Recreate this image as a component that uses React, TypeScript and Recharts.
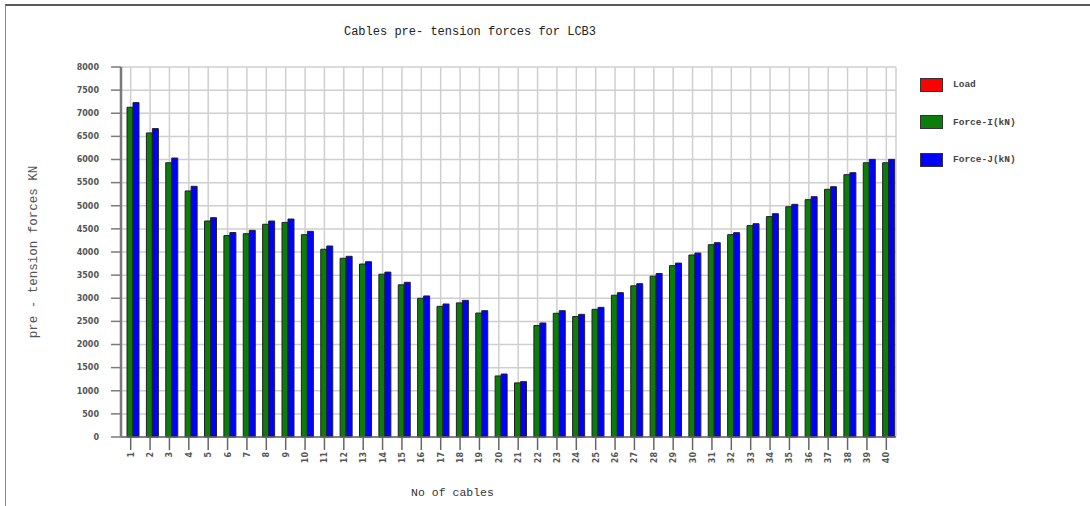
import { BarChart, Bar, XAxis, YAxis, CartesianGrid, Legend, Label } from 'recharts';

const cables = [
  '1', '2', '3', '4', '5', '6', '7', '8', '9', '10',
  '11', '12', '13', '14', '15', '16', '17', '18', '19', '20',
  '21', '22', '23', '24', '25', '26', '27', '28', '29', '30',
  '31', '32', '33', '34', '35', '36', '37', '38', '39', '40',
];

const load = [
  0, 0, 0, 0, 0, 0, 0, 0, 0, 0,
  0, 0, 0, 0, 0, 0, 0, 0, 0, 0,
  0, 0, 0, 0, 0, 0, 0, 0, 0, 0,
  0, 0, 0, 0, 0, 0, 0, 0, 0, 0,
];

const forceI = [
  7130, 6575, 5930, 5320, 4670, 4355, 4395, 4600, 4640, 4375,
  4060, 3865, 3740, 3520, 3290, 3000, 2825, 2900, 2680, 1320,
  1170, 2410, 2675, 2605, 2760, 3065, 3268, 3478, 3705, 3935,
  4158, 4375, 4570, 4765, 4980, 5132, 5355, 5672, 5930, 5930,
];

const forceJ = [
  7230, 6668, 6032, 5420, 4742, 4420, 4468, 4670, 4713, 4447,
  4130, 3907, 3790, 3565, 3345, 3050, 2876, 2955, 2731, 1362,
  1196, 2465, 2731, 2652, 2803, 3121, 3315, 3535, 3760, 3978,
  4202, 4418, 4612, 4829, 5031, 5196, 5412, 5715, 6003, 6003,
];

const seriesNames = ['Load', 'Force-I(kN)', 'Force-J(kN)'];

const yTicks = [0, 500, 1000, 1500, 2000, 2500, 3000, 3500, 4000, 4500, 5000, 5500, 6000, 6500, 7000, 7500, 8000];

const data = cables.map((c, i) => ({
  name: c,
  load: load[i],
  forceI: forceI[i],
  forceJ: forceJ[i],
}));

const mono = '"Liberation Mono", "DejaVu Sans Mono", monospace';
const tickFont = '"DejaVu Sans", Verdana, sans-serif';

function XTick(props: any) {
  const { x, y, payload } = props;
  return (
    <text
      x={x}
      y={y}
      dy={3}
      transform={`rotate(-90, ${x}, ${y})`}
      textAnchor="end"
      fontFamily={tickFont}
      fontWeight="bold"
      fontSize={8}
      fill="#555"
    >
      {payload.value}
    </text>
  );
}

function LegendList(props: any) {
  const items = [...(props.payload || [])].sort(
    (a: any, b: any) => seriesNames.indexOf(a.value) - seriesNames.indexOf(b.value),
  );
  return (
    <div>
      {items.map((it: any) => (
        <div key={it.value} style={{ display: 'flex', alignItems: 'center', height: 13, marginBottom: 24.5 }}>
          <span
            style={{
              display: 'inline-block',
              width: 21,
              height: 12,
              background: it.color,
              border: '1px solid #333',
              marginRight: 10,
            }}
          />
          <span style={{ fontFamily: mono, fontSize: 9.5, fontWeight: 'bold', color: '#444' }}>{it.value}</span>
        </div>
      ))}
    </div>
  );
}

export default function App() {
  return (
    <div style={{ position: 'absolute', left: 0, top: 0, width: 1090, height: 506, background: '#fff', overflow: 'hidden' }}>
      <div
        style={{
          position: 'absolute',
          left: 5,
          top: 4,
          width: 1090,
          height: 500,
          borderTop: '2px solid #5a5a5a',
          borderLeft: '1px solid #888',
          borderBottom: '1px solid #999',
        }}
      />
      <div
        style={{
          position: 'absolute',
          left: 0,
          top: 25,
          width: 940,
          textAlign: 'center',
          fontFamily: mono,
          fontSize: 12,
          color: '#222',
        }}
      >
        Cables pre- tension forces for LCB3
      </div>
      <div style={{ position: 'absolute', left: 0, top: 0 }}>
        <BarChart
          width={1090}
          height={506}
          data={data}
          margin={{ top: 67, right: 194, bottom: 39, left: 61 }}
          barCategoryGap={0}
          barGap={0}
        >
          <CartesianGrid stroke="#cfcfcf" strokeWidth={1.5} />
          <XAxis
            dataKey="name"
            height={30}
            interval={0}
            tick={<XTick />}
            tickSize={13}
            axisLine={{ stroke: '#666', strokeWidth: 1.5 }}
            tickLine={{ stroke: '#666', strokeWidth: 1.5 }}
          >
            <Label
              content={({ viewBox }: any) => (
                <text
                  x={viewBox.x + viewBox.width / 2 - 56}
                  y={viewBox.y + 59}
                  textAnchor="middle"
                  fontFamily={mono}
                  fontSize={11.5}
                  fill="#333"
                >
                  No of cables
                </text>
              )}
            />
          </XAxis>
          <YAxis
            width={60}
            domain={[0, 8000]}
            ticks={yTicks}
            interval={0}
            tickSize={10}
            tickMargin={12}
            axisLine={{ stroke: '#7a7a7a', strokeWidth: 2.5 }}
            tickLine={{ stroke: '#7a7a7a', strokeWidth: 1.5 }}
            tick={{ fontFamily: tickFont, fontWeight: 'bold', fontSize: 8, fill: '#555' }}
          >
            <Label
              content={({ viewBox }: any) => {
                const cx = viewBox.x - 24;
                const cy = viewBox.y + viewBox.height / 2;
                return (
                  <text
                    x={cx}
                    y={cy}
                    transform={`rotate(-90, ${cx}, ${cy})`}
                    textAnchor="middle"
                    fontFamily={mono}
                    fontSize={12.5}
                    fill="#555"
                  >
                    pre - tension forces KN
                  </text>
                );
              }}
            />
          </YAxis>
          <YAxis
            yAxisId="frame"
            orientation="right"
            width={0}
            domain={[0, 8000]}
            tick={false}
            tickLine={false}
            axisLine={{ stroke: '#9a9a9a', strokeWidth: 1.5 }}
          />
          <Legend
            layout="horizontal"
            verticalAlign="middle"
            align="center"
            content={<LegendList />}
            wrapperStyle={{ left: 920, top: 78, width: 160, height: 100 }}
          />
          <Bar dataKey="load" name="Load" fill="#ff0000" stroke="#222" strokeWidth={1} isAnimationActive={false} />
          <Bar dataKey="forceI" name="Force-I(kN)" fill="#0a7d0a" stroke="#222" strokeWidth={1} isAnimationActive={false} />
          <Bar dataKey="forceJ" name="Force-J(kN)" fill="#0000ff" stroke="#222" strokeWidth={1} isAnimationActive={false} />
        </BarChart>
      </div>
    </div>
  );
}
